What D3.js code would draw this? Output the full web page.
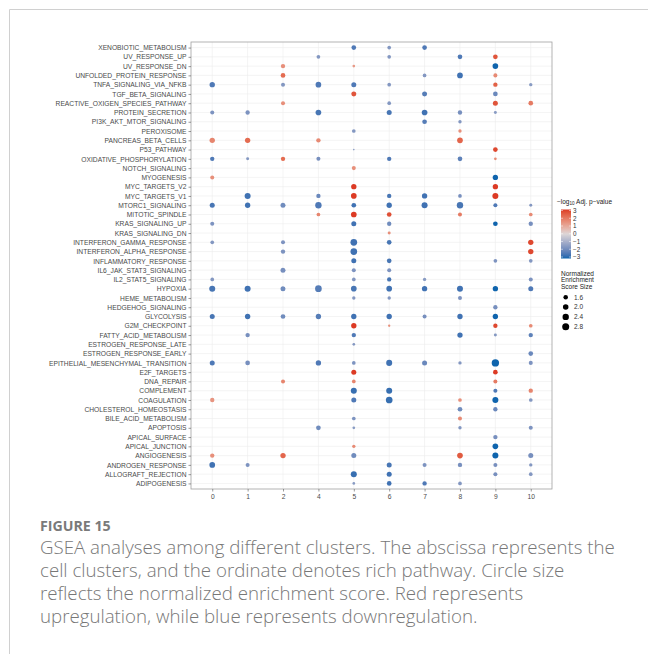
<!DOCTYPE html>
<html>
<head>
<meta charset="utf-8">
<script src="https://cdn.jsdelivr.net/npm/d3@7"></script>
<style>
  body { margin: 0; background: #fff; }
  svg { display: block; }
</style>
</head>
<body>
<svg id="fig" width="648" height="654"></svg>
<script>
// Hallmark pathways, listed top to bottom as they appear on the y axis
const pathways = [
  "XENOBIOTIC_METABOLISM", "UV_RESPONSE_UP", "UV_RESPONSE_DN", "UNFOLDED_PROTEIN_RESPONSE",
  "TNFA_SIGNALING_VIA_NFKB", "TGF_BETA_SIGNALING", "REACTIVE_OXIGEN_SPECIES_PATHWAY",
  "PROTEIN_SECRETION", "PI3K_AKT_MTOR_SIGNALING", "PEROXISOME", "PANCREAS_BETA_CELLS",
  "P53_PATHWAY", "OXIDATIVE_PHOSPHORYLATION", "NOTCH_SIGNALING", "MYOGENESIS",
  "MYC_TARGETS_V2", "MYC_TARGETS_V1", "MTORC1_SIGNALING", "MITOTIC_SPINDLE",
  "KRAS_SIGNALING_UP", "KRAS_SIGNALING_DN", "INTERFERON_GAMMA_RESPONSE",
  "INTERFERON_ALPHA_RESPONSE", "INFLAMMATORY_RESPONSE", "IL6_JAK_STAT3_SIGNALING",
  "IL2_STAT5_SIGNALING", "HYPOXIA", "HEME_METABOLISM", "HEDGEHOG_SIGNALING", "GLYCOLYSIS",
  "G2M_CHECKPOINT", "FATTY_ACID_METABOLISM", "ESTROGEN_RESPONSE_LATE", "ESTROGEN_RESPONSE_EARLY",
  "EPITHELIAL_MESENCHYMAL_TRANSITION", "E2F_TARGETS", "DNA_REPAIR", "COMPLEMENT", "COAGULATION",
  "CHOLESTEROL_HOMEOSTASIS", "BILE_ACID_METABOLISM", "APOPTOSIS", "APICAL_SURFACE",
  "APICAL_JUNCTION", "ANGIOGENESIS", "ANDROGEN_RESPONSE", "ALLOGRAFT_REJECTION", "ADIPOGENESIS"
];

// Cell clusters on the x axis
const clusters = ["0", "1", "2", "4", "5", "6", "7", "8", "9", "10"];

// GSEA results: [pathway, cluster, signed -log10 adj. p-value, NES]
const gseaResults = [
  ["XENOBIOTIC_METABOLISM", "5", -2.4, 1.65], ["XENOBIOTIC_METABOLISM", "6", -1.6, 1.35], ["XENOBIOTIC_METABOLISM", "7", -2.4, 1.65],
  ["UV_RESPONSE_UP", "4", -1.6, 1.35], ["UV_RESPONSE_UP", "6", -1.6, 1.35], ["UV_RESPONSE_UP", "8", -2.4, 1.65], ["UV_RESPONSE_UP", "9", 2.6, 1.65],
  ["UV_RESPONSE_DN", "2", 1.5, 1.54], ["UV_RESPONSE_DN", "5", 1.3, 1.17], ["UV_RESPONSE_DN", "9", -3.0, 2.06],
  ["UNFOLDED_PROTEIN_RESPONSE", "2", 2.2, 1.65], ["UNFOLDED_PROTEIN_RESPONSE", "7", -1.6, 1.35], ["UNFOLDED_PROTEIN_RESPONSE", "8", -2.6, 2.06], ["UNFOLDED_PROTEIN_RESPONSE", "9", 1.6, 1.44],
  ["TNFA_SIGNALING_VIA_NFKB", "0", -2.4, 1.91], ["TNFA_SIGNALING_VIA_NFKB", "2", -1.6, 1.44], ["TNFA_SIGNALING_VIA_NFKB", "4", -2.4, 2.06], ["TNFA_SIGNALING_VIA_NFKB", "5", -2.4, 1.77], ["TNFA_SIGNALING_VIA_NFKB", "6", -1.6, 1.35], ["TNFA_SIGNALING_VIA_NFKB", "9", 2.4, 1.54], ["TNFA_SIGNALING_VIA_NFKB", "10", -1.5, 1.28],
  ["TGF_BETA_SIGNALING", "5", 2.6, 1.77], ["TGF_BETA_SIGNALING", "7", -2.3, 1.77], ["TGF_BETA_SIGNALING", "9", -2.0, 1.65],
  ["REACTIVE_OXIGEN_SPECIES_PATHWAY", "2", 1.5, 1.44], ["REACTIVE_OXIGEN_SPECIES_PATHWAY", "6", -1.6, 1.35], ["REACTIVE_OXIGEN_SPECIES_PATHWAY", "9", 2.6, 1.77], ["REACTIVE_OXIGEN_SPECIES_PATHWAY", "10", 1.9, 1.65],
  ["PROTEIN_SECRETION", "0", -1.7, 1.44], ["PROTEIN_SECRETION", "1", -1.7, 1.54], ["PROTEIN_SECRETION", "4", -2.5, 2.06], ["PROTEIN_SECRETION", "6", -2.5, 1.77], ["PROTEIN_SECRETION", "7", -2.6, 2.06], ["PROTEIN_SECRETION", "8", -1.8, 1.54], ["PROTEIN_SECRETION", "9", -1.5, 1.21],
  ["PI3K_AKT_MTOR_SIGNALING", "7", -2.3, 1.65], ["PI3K_AKT_MTOR_SIGNALING", "8", -1.6, 1.28],
  ["PEROXISOME", "5", -1.6, 1.35], ["PEROXISOME", "8", 1.5, 1.28],
  ["PANCREAS_BETA_CELLS", "0", 1.7, 1.91], ["PANCREAS_BETA_CELLS", "1", 2.2, 1.91], ["PANCREAS_BETA_CELLS", "4", 1.6, 1.54], ["PANCREAS_BETA_CELLS", "8", 2.3, 2.06],
  ["P53_PATHWAY", "5", -1.5, 1.10], ["P53_PATHWAY", "9", 2.8, 1.65],
  ["OXIDATIVE_PHOSPHORYLATION", "0", -2.4, 1.54], ["OXIDATIVE_PHOSPHORYLATION", "1", -1.6, 1.21], ["OXIDATIVE_PHOSPHORYLATION", "2", 2.2, 1.54], ["OXIDATIVE_PHOSPHORYLATION", "4", -1.8, 1.44], ["OXIDATIVE_PHOSPHORYLATION", "6", -2.4, 1.54], ["OXIDATIVE_PHOSPHORYLATION", "8", -2.2, 1.65], ["OXIDATIVE_PHOSPHORYLATION", "9", 1.6, 1.17],
  ["NOTCH_SIGNALING", "5", 1.5, 1.44],
  ["MYOGENESIS", "0", 1.5, 1.44], ["MYOGENESIS", "9", -3.0, 1.91],
  ["MYC_TARGETS_V2", "5", 3.0, 1.91], ["MYC_TARGETS_V2", "9", 3.0, 1.91],
  ["MYC_TARGETS_V1", "1", -2.6, 2.23], ["MYC_TARGETS_V1", "4", -2.0, 1.54], ["MYC_TARGETS_V1", "5", 3.0, 2.06], ["MYC_TARGETS_V1", "6", -2.5, 1.54], ["MYC_TARGETS_V1", "7", -2.6, 1.91], ["MYC_TARGETS_V1", "8", -1.8, 1.35], ["MYC_TARGETS_V1", "9", 3.0, 2.23],
  ["MTORC1_SIGNALING", "0", -2.5, 1.77], ["MTORC1_SIGNALING", "1", -2.6, 1.91], ["MTORC1_SIGNALING", "2", -1.9, 1.77], ["MTORC1_SIGNALING", "4", -2.4, 2.41], ["MTORC1_SIGNALING", "5", -2.6, 1.65], ["MTORC1_SIGNALING", "6", -2.6, 1.91], ["MTORC1_SIGNALING", "7", -2.6, 2.23], ["MTORC1_SIGNALING", "8", -2.5, 2.41], ["MTORC1_SIGNALING", "9", -2.4, 1.44], ["MTORC1_SIGNALING", "10", -1.6, 1.21],
  ["MITOTIC_SPINDLE", "4", 1.7, 1.35], ["MITOTIC_SPINDLE", "5", 3.0, 2.06], ["MITOTIC_SPINDLE", "6", 2.7, 1.65], ["MITOTIC_SPINDLE", "8", 1.9, 1.44], ["MITOTIC_SPINDLE", "10", 1.6, 1.35],
  ["KRAS_SIGNALING_UP", "0", -1.7, 1.44], ["KRAS_SIGNALING_UP", "5", -2.6, 1.77], ["KRAS_SIGNALING_UP", "6", -1.9, 1.54], ["KRAS_SIGNALING_UP", "9", -3.0, 1.65], ["KRAS_SIGNALING_UP", "10", -1.8, 1.54],
  ["KRAS_SIGNALING_DN", "6", 1.5, 1.21],
  ["INTERFERON_GAMMA_RESPONSE", "0", -1.6, 1.35], ["INTERFERON_GAMMA_RESPONSE", "2", -1.7, 1.44], ["INTERFERON_GAMMA_RESPONSE", "5", -2.6, 2.60], ["INTERFERON_GAMMA_RESPONSE", "6", -2.5, 1.65], ["INTERFERON_GAMMA_RESPONSE", "10", 2.8, 1.91],
  ["INTERFERON_ALPHA_RESPONSE", "2", -1.7, 1.54], ["INTERFERON_ALPHA_RESPONSE", "5", -2.6, 2.60], ["INTERFERON_ALPHA_RESPONSE", "10", 2.8, 1.91],
  ["INFLAMMATORY_RESPONSE", "5", -2.6, 1.77], ["INFLAMMATORY_RESPONSE", "6", -2.5, 1.65], ["INFLAMMATORY_RESPONSE", "9", -1.7, 1.35], ["INFLAMMATORY_RESPONSE", "10", -1.6, 1.35],
  ["IL6_JAK_STAT3_SIGNALING", "2", -1.8, 1.77], ["IL6_JAK_STAT3_SIGNALING", "5", -1.7, 1.44], ["IL6_JAK_STAT3_SIGNALING", "6", -1.7, 1.44],
  ["IL2_STAT5_SIGNALING", "0", -1.6, 1.35], ["IL2_STAT5_SIGNALING", "5", -1.6, 1.35], ["IL2_STAT5_SIGNALING", "6", -2.5, 1.54], ["IL2_STAT5_SIGNALING", "7", -1.5, 1.28], ["IL2_STAT5_SIGNALING", "10", -1.7, 1.44],
  ["HYPOXIA", "0", -2.5, 2.23], ["HYPOXIA", "1", -2.6, 2.23], ["HYPOXIA", "2", -1.9, 1.77], ["HYPOXIA", "4", -2.3, 2.60], ["HYPOXIA", "5", -2.5, 2.06], ["HYPOXIA", "6", -2.6, 2.06], ["HYPOXIA", "7", -2.6, 1.91], ["HYPOXIA", "8", -2.6, 2.23], ["HYPOXIA", "9", -3.0, 1.91], ["HYPOXIA", "10", -2.4, 1.77],
  ["HEME_METABOLISM", "5", -1.6, 1.28], ["HEME_METABOLISM", "6", -1.6, 1.28], ["HEME_METABOLISM", "8", -1.7, 1.44],
  ["HEDGEHOG_SIGNALING", "9", -1.8, 1.54],
  ["GLYCOLYSIS", "0", -2.5, 1.77], ["GLYCOLYSIS", "1", -2.6, 1.91], ["GLYCOLYSIS", "2", -1.9, 1.65], ["GLYCOLYSIS", "4", -2.3, 1.91], ["GLYCOLYSIS", "5", -2.6, 1.91], ["GLYCOLYSIS", "6", -2.6, 1.91], ["GLYCOLYSIS", "7", -1.8, 1.44], ["GLYCOLYSIS", "8", -2.6, 1.91], ["GLYCOLYSIS", "9", -3.0, 1.91],
  ["G2M_CHECKPOINT", "5", 3.0, 1.91], ["G2M_CHECKPOINT", "6", 1.5, 1.13], ["G2M_CHECKPOINT", "9", 2.8, 1.54], ["G2M_CHECKPOINT", "10", 1.6, 1.35],
  ["FATTY_ACID_METABOLISM", "1", -1.8, 1.54], ["FATTY_ACID_METABOLISM", "5", -2.4, 1.54], ["FATTY_ACID_METABOLISM", "8", -2.6, 1.91], ["FATTY_ACID_METABOLISM", "9", -1.6, 1.21], ["FATTY_ACID_METABOLISM", "10", -2.2, 1.54],
  ["ESTROGEN_RESPONSE_LATE", "5", -1.6, 1.17],
  ["ESTROGEN_RESPONSE_EARLY", "10", -2.0, 1.65],
  ["EPITHELIAL_MESENCHYMAL_TRANSITION", "0", -2.4, 1.77], ["EPITHELIAL_MESENCHYMAL_TRANSITION", "1", -1.8, 1.65], ["EPITHELIAL_MESENCHYMAL_TRANSITION", "4", -2.4, 1.91], ["EPITHELIAL_MESENCHYMAL_TRANSITION", "5", -1.7, 1.35], ["EPITHELIAL_MESENCHYMAL_TRANSITION", "6", -2.6, 2.23], ["EPITHELIAL_MESENCHYMAL_TRANSITION", "7", -2.0, 1.77], ["EPITHELIAL_MESENCHYMAL_TRANSITION", "8", -1.6, 1.28], ["EPITHELIAL_MESENCHYMAL_TRANSITION", "9", -3.0, 3.02], ["EPITHELIAL_MESENCHYMAL_TRANSITION", "10", -1.7, 1.44],
  ["E2F_TARGETS", "5", 3.0, 1.77], ["E2F_TARGETS", "9", 3.0, 1.65],
  ["DNA_REPAIR", "2", 1.7, 1.44], ["DNA_REPAIR", "5", 1.7, 1.35], ["DNA_REPAIR", "9", 1.9, 1.44],
  ["COMPLEMENT", "5", -2.7, 2.23], ["COMPLEMENT", "6", -2.7, 2.23], ["COMPLEMENT", "9", -2.4, 1.44], ["COMPLEMENT", "10", 1.7, 1.54],
  ["COAGULATION", "0", 1.4, 1.54], ["COAGULATION", "5", -2.4, 1.77], ["COAGULATION", "6", -2.7, 2.60], ["COAGULATION", "8", 1.5, 1.35], ["COAGULATION", "9", -3.0, 2.23], ["COAGULATION", "10", -1.6, 1.35],
  ["CHOLESTEROL_HOMEOSTASIS", "8", -1.9, 1.65], ["CHOLESTEROL_HOMEOSTASIS", "9", -2.0, 1.54],
  ["BILE_ACID_METABOLISM", "5", -1.7, 1.35], ["BILE_ACID_METABOLISM", "8", 1.6, 1.44],
  ["APOPTOSIS", "4", -1.9, 1.65], ["APOPTOSIS", "5", -1.5, 1.17], ["APOPTOSIS", "8", -1.6, 1.28], ["APOPTOSIS", "10", -1.7, 1.44],
  ["APICAL_SURFACE", "9", -1.8, 1.54],
  ["APICAL_JUNCTION", "5", 1.6, 1.28], ["APICAL_JUNCTION", "9", -3.0, 2.06],
  ["ANGIOGENESIS", "0", 1.5, 1.54], ["ANGIOGENESIS", "2", 2.3, 1.91], ["ANGIOGENESIS", "5", -1.9, 1.77], ["ANGIOGENESIS", "8", 2.5, 2.06], ["ANGIOGENESIS", "9", -3.0, 2.23], ["ANGIOGENESIS", "10", -1.8, 1.77],
  ["ANDROGEN_RESPONSE", "0", -2.6, 2.06], ["ANDROGEN_RESPONSE", "1", -1.7, 1.44], ["ANDROGEN_RESPONSE", "6", -2.5, 1.77], ["ANDROGEN_RESPONSE", "7", -1.7, 1.44], ["ANDROGEN_RESPONSE", "8", -1.8, 1.54], ["ANDROGEN_RESPONSE", "9", -1.8, 1.44], ["ANDROGEN_RESPONSE", "10", -1.6, 1.28],
  ["ALLOGRAFT_REJECTION", "5", -2.7, 2.23], ["ALLOGRAFT_REJECTION", "6", -2.6, 1.77], ["ALLOGRAFT_REJECTION", "9", -1.8, 1.44], ["ALLOGRAFT_REJECTION", "10", -1.6, 1.35],
  ["ADIPOGENESIS", "5", -1.5, 1.17], ["ADIPOGENESIS", "6", -2.6, 1.65], ["ADIPOGENESIS", "7", -2.4, 1.54], ["ADIPOGENESIS", "8", -1.6, 1.35]
];

// Legend breaks
const colorTicks = [3, 2, 1, 0, -1, -2, -3];
const sizeBreaks = [1.6, 2.0, 2.4, 2.8];

// Figure caption
const captionTitle = "FIGURE 15";
const captionLines = [
  "GSEA analyses among different clusters. The abscissa represents the",
  "cell clusters, and the ordinate denotes rich pathway. Circle size",
  "reflects the normalized enrichment score. Red represents",
  "upregulation, while blue represents downregulation."
];

const svg = d3.select("#fig");
const chartFont = "'Liberation Sans', Arial, Helvetica, sans-serif";
const panel = { left: 191, right: 552, top: 42, bottom: 489 };

// Outer figure frame (open to the right and bottom)
svg.append("path")
  .attr("d", "M9.5,654 V9.5 H648")
  .attr("fill", "none")
  .attr("stroke", "#d0d0d0")
  .attr("stroke-width", 1);

const x = d3.scalePoint().domain(clusters).range([panel.left, panel.right]).padding(0.6);
const y = d3.scalePoint().domain(pathways).range([panel.top, panel.bottom]).padding(0.6);

const color = d3.scaleLinear()
  .domain([-3, 0, 3])
  .range(["#0f64ad", "#ddd6d7", "#dc3a24"])
  .interpolate(d3.interpolateLab)
  .clamp(true);

// Area-proportional size scale for NES
const nesDomain = [1.1, 3.05];
const radiusRange = [0.8, 3.7];
const nesT = d3.scaleLinear().domain(nesDomain).range([0, 1]).clamp(true);
const radius = v => radiusRange[0] + Math.sqrt(nesT(v)) * (radiusRange[1] - radiusRange[0]);

// Grid
const grid = svg.append("g");
grid.selectAll("line.v").data(clusters).join("line")
  .attr("x1", d => x(d)).attr("x2", d => x(d))
  .attr("y1", panel.top).attr("y2", panel.bottom)
  .attr("stroke", "#ececec").attr("stroke-width", 0.6);
grid.selectAll("line.h").data(pathways).join("line")
  .attr("y1", d => y(d)).attr("y2", d => y(d))
  .attr("x1", panel.left).attr("x2", panel.right)
  .attr("stroke", "#ececec").attr("stroke-width", 0.6);

// Dots
svg.append("g").selectAll("circle").data(gseaResults).join("circle")
  .attr("cx", d => x(d[1]))
  .attr("cy", d => y(d[0]))
  .attr("r", d => radius(d[3]))
  .attr("fill", d => color(d[2]));

// Panel border
svg.append("rect")
  .attr("x", panel.left).attr("y", panel.top)
  .attr("width", panel.right - panel.left).attr("height", panel.bottom - panel.top)
  .attr("fill", "none").attr("stroke", "#a0a0a0").attr("stroke-width", 0.8);

// Axes
const yAxis = svg.append("g")
  .attr("transform", `translate(${panel.left},0)`)
  .call(d3.axisLeft(y).tickSize(2.5).tickPadding(2));
const xAxis = svg.append("g")
  .attr("transform", `translate(0,${panel.bottom})`)
  .call(d3.axisBottom(x).tickSize(2.5).tickPadding(2.5));
[yAxis, xAxis].forEach(g => {
  g.select(".domain").remove();
  g.selectAll(".tick line").attr("stroke", "#555").attr("stroke-width", 0.6);
  g.selectAll(".tick text")
    .attr("fill", "#4a4a4a")
    .style("font-family", chartFont)
    .style("font-size", "6.7px");
});

// Colour legend
const legend = svg.append("g");
const lt = legend.append("text")
  .attr("x", 557).attr("y", 204)
  .attr("fill", "#222")
  .style("font-family", chartFont)
  .style("font-size", "6.5px");
lt.append("tspan").text("\u2212log");
lt.append("tspan").attr("dy", 1.4).style("font-size", "4.6px").text("10");
lt.append("tspan").attr("dy", -1.4).text(" Adj. p\u2212value");

const barTop = 209.5, barBottom = 258.5, barX = 561, barW = 10;
const barY = d3.scaleLinear().domain([3, -3]).range([barTop + 1, barBottom - 1.5]);
const defs = svg.append("defs");
const grad = defs.append("linearGradient")
  .attr("id", "pvalGrad").attr("x1", 0).attr("x2", 0).attr("y1", 0).attr("y2", 1);
d3.range(0, 1.0001, 0.05).forEach(t => {
  grad.append("stop").attr("offset", t).attr("stop-color", color(3 - 6 * t));
});
legend.append("rect")
  .attr("x", barX).attr("y", barTop)
  .attr("width", barW).attr("height", barBottom - barTop)
  .attr("fill", "url(#pvalGrad)");
legend.selectAll("line.ct").data(colorTicks).join("line")
  .attr("x1", barX).attr("x2", barX + 2)
  .attr("y1", d => barY(d)).attr("y2", d => barY(d))
  .attr("stroke", "#fff").attr("stroke-width", 0.5);
legend.selectAll("line.ct2").data(colorTicks).join("line")
  .attr("x1", barX + barW - 2).attr("x2", barX + barW)
  .attr("y1", d => barY(d)).attr("y2", d => barY(d))
  .attr("stroke", "#fff").attr("stroke-width", 0.5);
legend.selectAll("text.cl").data(colorTicks).join("text")
  .attr("x", barX + barW + 2)
  .attr("y", d => barY(d) + 2.4)
  .attr("fill", "#333")
  .style("font-family", chartFont)
  .style("font-size", "6.3px")
  .text(d => d < 0 ? "\u2212" + Math.abs(d) : d);

// Size legend
const sizeTitle = ["Normalized", "Enrichment", "Score Size"];
legend.selectAll("text.st").data(sizeTitle).join("text")
  .attr("x", 561).attr("y", (d, i) => 276 + i * 6.3)
  .attr("fill", "#222")
  .style("font-family", chartFont)
  .style("font-size", "6.5px")
  .text(d => d);
const sizeY = d3.scalePoint().domain(sizeBreaks).range([297.3, 326.7]);
legend.selectAll("circle.sz").data(sizeBreaks).join("circle")
  .attr("cx", 565.7).attr("cy", d => sizeY(d))
  .attr("r", d => radius(d))
  .attr("fill", "#000");
legend.selectAll("text.sl").data(sizeBreaks).join("text")
  .attr("x", 574).attr("y", d => sizeY(d) + 2.3)
  .attr("fill", "#333")
  .style("font-family", chartFont)
  .style("font-size", "6.5px")
  .text(d => d.toFixed(1));

// Caption
const capFont = "'Open Sans', Lato, 'Noto Sans', sans-serif";
svg.append("text")
  .attr("x", 40).attr("y", 530.7)
  .attr("fill", "#7a7a7a")
  .style("font-family", capFont)
  .style("font-weight", 700)
  .style("font-size", "14.2px")
  .text(captionTitle);
const capText = svg.append("g");
const capLines = capText.selectAll("text").data(captionLines).join("text")
  .attr("x", 40).attr("y", (d, i) => 553.5 + i * 23.1)
  .attr("fill", "#777")
  .style("font-family", capFont)
  .style("font-weight", 300)
  .style("font-size", "16px")
  .text(d => d);
// Fit the caption font so the first line spans the text column
const firstW = capLines.nodes()[0].getComputedTextLength();
const fitted = 16 * 575 / firstW;
capLines.style("font-size", fitted + "px");
</script>
</body>
</html>
